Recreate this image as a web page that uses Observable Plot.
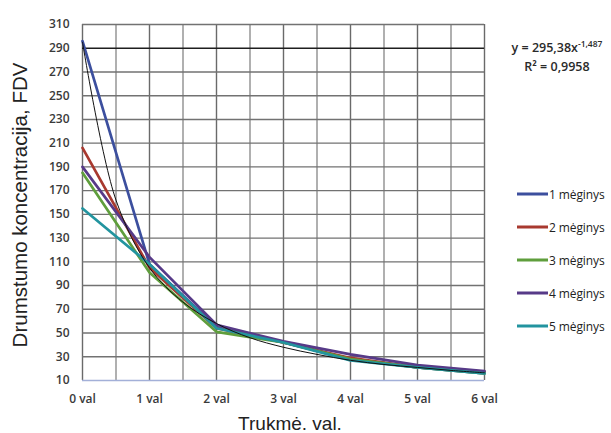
<!DOCTYPE html>
<html>
<head>
<meta charset="utf-8">
<script src="https://cdn.jsdelivr.net/npm/d3@7"></script>
<script src="https://cdn.jsdelivr.net/npm/@observablehq/plot@0.6"></script>
<style>
  html, body { margin: 0; padding: 0; background: #fff; overflow: hidden; }
  #wrap { position: relative; width: 611px; height: 433px; overflow: hidden; font-family: "Open Sans", sans-serif; }
  #wrap svg { position: absolute; left: 0; top: 0; overflow: visible; }
  .ytitle { position: absolute; left: 20px; top: 205px; transform: translate(-50%, -50%) rotate(-90deg); white-space: nowrap; font-family: "Liberation Sans", Arial, sans-serif; font-size: 20.5px; color: #222; }
  .xtitle { position: absolute; left: 290px; top: 424px; transform: translate(-50%, -50%); white-space: nowrap; font-family: "Liberation Sans", Arial, sans-serif; font-size: 19px; color: #222; }
  .eq { position: absolute; left: 557px; transform: translate(-50%, -50%); white-space: nowrap; font-size: 12.5px; font-weight: 600; color: #2a2a2a; }
  .eq sup { font-size: 8.5px; vertical-align: 5px; line-height: 0; }
  .leg { position: absolute; left: 517px; white-space: nowrap; font-size: 12px; font-weight: 400; color: #222; display: flex; align-items: center; transform: translateY(-50%); letter-spacing: -0.1px; }
  .leg span.sw { display: inline-block; width: 31px; height: 3px; margin-right: 1px; }
</style>
</head>
<body>
<div id="wrap"></div>
<script>
// Data
const hours = [0, 1, 2, 3, 4, 5, 6];
const xTickLabels = ["0 val", "1 val", "2 val", "3 val", "4 val", "5 val", "6 val"];
const yTicks = [10, 30, 50, 70, 90, 110, 130, 150, 170, 190, 210, 230, 250, 270, 290, 310];
const seriesNames = ["1 mėginys", "2 mėginys", "3 mėginys", "4 mėginys", "5 mėginys"];
const seriesColors = ["#3c4f9e", "#a8392f", "#5f9e3c", "#573a88", "#22949f"];
const s1 = [296, 108, 55, 42, 28, 21, 16];
const s2 = [206, 105, 54, 42, 29, 21, 17];
const s3 = [185, 101, 51, 42, 28, 21, 16];
const s4 = [190, 114, 57, 43, 32, 23, 18];
const s5 = [155, 108, 54, 42, 27, 21, 16];
const trendHours = [0, 0.5, 1, 1.5, 2, 2.5, 3, 3.5, 4, 4.5, 5, 5.5, 6];
const trendValues = [295, 162, 105, 76, 58, 46, 38, 32, 27, 23.5, 21, 18.5, 16.5];
const equationText = "y = 295,38x";
const equationExp = "-1,487";
const r2Text = "R² = 0,9958";
const xTitle = "Trukmė. val.";
const yTitle = "Drumstumo koncentracija, FDV";

const allSeries = [s1, s2, s3, s4, s5];
const rows = allSeries.flatMap((vals, i) => vals.map((v, j) => ({ x: hours[j], y: v, name: seriesNames[i] })));
const trend = trendHours.map((h, i) => ({ x: h, y: trendValues[i] }));
const halfHours = d3.range(0, 6.01, 0.5);

const chart = Plot.plot({
  width: 611,
  height: 433,
  marginLeft: 82,
  marginRight: 127,
  marginTop: 24,
  marginBottom: 53,
  style: { fontFamily: "Open Sans, sans-serif", fontSize: "12px", fontWeight: 600, color: "#3a3a3a", background: "transparent", overflow: "visible" },
  x: { domain: [0, 6], ticks: hours, tickFormat: (d) => xTickLabels[hours.indexOf(d)], tickSize: 0, tickPadding: 14, label: null },
  y: { domain: [10, 310], ticks: yTicks, tickSize: 0, tickPadding: 13, label: null },
  color: { domain: seriesNames, range: seriesColors },
  marks: [
    Plot.ruleX(halfHours, { stroke: (d) => (Number.isInteger(d) ? "#6a6a6a" : "#8f8f8f"), strokeWidth: 1.4 }),
    Plot.ruleY(yTicks.filter((d) => d > 10 && d !== 290), { stroke: "#727272", strokeWidth: 1.4 }),
    Plot.ruleY([290], { stroke: "#1e1e1e", strokeWidth: 1.4 }),
    Plot.ruleY([10], { stroke: "#a3b0d8", strokeWidth: 1.6 }),
    Plot.lineY(rows, { x: "x", y: "y", stroke: "name", strokeWidth: 2.7 }),
    Plot.lineY(trend, { x: "x", y: "y", stroke: "#111", strokeWidth: 1, curve: "catmull-rom" })
  ]
});

const wrap = document.getElementById("wrap");
wrap.appendChild(chart);

function addDiv(cls, html, styles) {
  const d = document.createElement("div");
  d.className = cls;
  d.innerHTML = html;
  Object.assign(d.style, styles || {});
  wrap.appendChild(d);
  return d;
}
addDiv("ytitle", yTitle);
addDiv("xtitle", xTitle);
addDiv("eq", equationText + "<sup>" + equationExp + "</sup>", { top: "47px" });
addDiv("eq", r2Text, { top: "66px" });
const legTops = [194, 227, 260, 293, 326];
seriesNames.forEach((n, i) => {
  addDiv("leg", '<span class="sw" style="background:' + seriesColors[i] + '"></span>' + n, { top: legTops[i] + "px" });
});
</script>
</body>
</html>
